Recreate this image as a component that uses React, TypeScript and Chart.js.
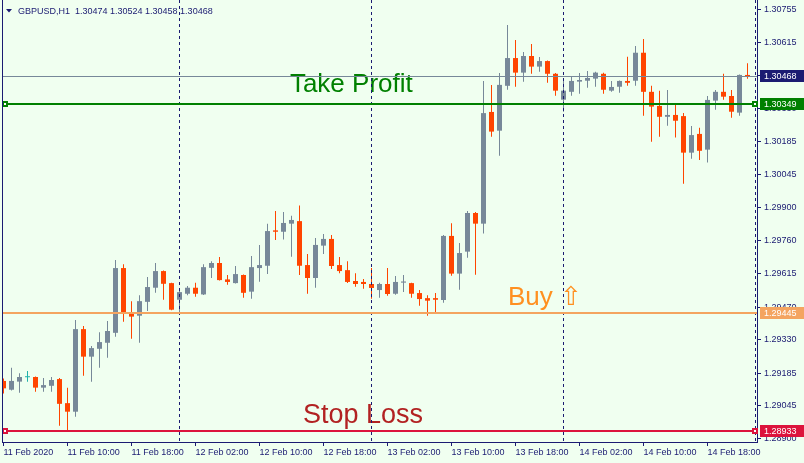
import React, { useEffect, useRef } from 'react';
import { Chart, registerables } from 'chart.js';

Chart.register(...registerables);

const symbol = 'GBPUSD';
const timeframe = 'H1';

const opens = [
  1.29151, 1.29113, 1.29148, 1.29167, 1.29168, 1.29122, 1.29130, 1.29159, 1.29055, 1.29018,
  1.29375, 1.29256, 1.29290, 1.29316, 1.29359, 1.29639, 1.29445, 1.29433, 1.29493, 1.29554,
  1.29626, 1.29574, 1.29502, 1.29528, 1.29554, 1.29525, 1.29640, 1.29661, 1.29590, 1.29574,
  1.29609, 1.29537, 1.29639, 1.29649, 1.29802, 1.29796, 1.29831, 1.29842, 1.29652, 1.29596,
  1.29736, 1.29765, 1.29652, 1.29630, 1.29583, 1.29579, 1.29570, 1.29544, 1.29570, 1.29528,
  1.29576, 1.29574, 1.29531, 1.29509, 1.29509, 1.29501, 1.29778, 1.29615, 1.29710, 1.29877,
  1.29831, 1.30314, 1.30233, 1.30427, 1.30547, 1.30484, 1.30556, 1.30510, 1.30534, 1.30479,
  1.30367, 1.30401, 1.30445, 1.30449, 1.30458, 1.30479, 1.30406, 1.30423, 1.30448, 1.30449,
  1.30570, 1.30401, 1.30340, 1.30293, 1.30301, 1.30296, 1.30138, 1.30219, 1.30151, 1.30363,
  1.30401, 1.30383, 1.30311, 1.30474,
];

const highs = [
  1.29162, 1.29208, 1.29184, 1.29194, 1.29170, 1.29164, 1.29168, 1.29164, 1.29122, 1.29414,
  1.29388, 1.29302, 1.29362, 1.29410, 1.29674, 1.29656, 1.29496, 1.29522, 1.29600, 1.29661,
  1.29628, 1.29576, 1.29548, 1.29561, 1.29576, 1.29656, 1.29669, 1.29687, 1.29609, 1.29648,
  1.29611, 1.29691, 1.29739, 1.29831, 1.29886, 1.29881, 1.29865, 1.29909, 1.29700, 1.29769,
  1.29786, 1.29782, 1.29687, 1.29669, 1.29617, 1.29592, 1.29639, 1.29576, 1.29639, 1.29605,
  1.29609, 1.29576, 1.29544, 1.29522, 1.29531, 1.29782, 1.29833, 1.29747, 1.29886, 1.29881,
  1.30448, 1.30431, 1.30482, 1.30690, 1.30625, 1.30573, 1.30608, 1.30552, 1.30536, 1.30482,
  1.30456, 1.30469, 1.30482, 1.30491, 1.30488, 1.30484, 1.30448, 1.30450, 1.30553, 1.30599,
  1.30629, 1.30427, 1.30406, 1.30409, 1.30350, 1.30309, 1.30253, 1.30246, 1.30383, 1.30409,
  1.30479, 1.30409, 1.30476, 1.30524,
];

const lows = [
  1.29097, 1.29110, 1.29100, 1.29148, 1.29104, 1.29104, 1.29104, 1.28957, 1.28931, 1.28996,
  1.29173, 1.29148, 1.29208, 1.29251, 1.29342, 1.29407, 1.29333, 1.29316, 1.29453, 1.29532,
  1.29502, 1.29457, 1.29446, 1.29522, 1.29515, 1.29523, 1.29596, 1.29585, 1.29567, 1.29572,
  1.29511, 1.29506, 1.29580, 1.29613, 1.29760, 1.29762, 1.29688, 1.29609, 1.29528, 1.29554,
  1.29700, 1.29635, 1.29617, 1.29574, 1.29558, 1.29550, 1.29506, 1.29511, 1.29519, 1.29524,
  1.29535, 1.29511, 1.29476, 1.29433, 1.29446, 1.29489, 1.29606, 1.29545, 1.29684, 1.29610,
  1.29788, 1.30207, 1.30125, 1.30410, 1.30423, 1.30445, 1.30479, 1.30488, 1.30440, 1.30384,
  1.30315, 1.30384, 1.30393, 1.30419, 1.30423, 1.30393, 1.30401, 1.30397, 1.30427, 1.30427,
  1.30298, 1.30185, 1.30207, 1.30254, 1.30203, 1.30004, 1.30112, 1.30106, 1.30095, 1.30324,
  1.30367, 1.30289, 1.30298, 1.30458,
];

const closes = [
  1.29119, 1.29151, 1.29168, 1.29167, 1.29122, 1.29133, 1.29155, 1.29052, 1.29018, 1.29375,
  1.29256, 1.29293, 1.29319, 1.29367, 1.29639, 1.29443, 1.29429, 1.29496, 1.29557, 1.29626,
  1.29571, 1.29459, 1.29535, 1.29554, 1.29528, 1.29643, 1.29661, 1.29587, 1.29579, 1.29613,
  1.29532, 1.29643, 1.29652, 1.29799, 1.29796, 1.29834, 1.29847, 1.29649, 1.29596, 1.29739,
  1.29765, 1.29648, 1.29626, 1.29579, 1.29570, 1.29570, 1.29553, 1.29570, 1.29527, 1.29579,
  1.29581, 1.29528, 1.29505, 1.29498, 1.29502, 1.29778, 1.29615, 1.29704, 1.29877, 1.29831,
  1.30309, 1.30229, 1.30431, 1.30547, 1.30484, 1.30556, 1.30510, 1.30534, 1.30479, 1.30406,
  1.30406, 1.30448, 1.30452, 1.30461, 1.30484, 1.30410, 1.30422, 1.30448, 1.30440, 1.30570,
  1.30401, 1.30337, 1.30293, 1.30301, 1.30276, 1.30138, 1.30214, 1.30146, 1.30366, 1.30401,
  1.30380, 1.30315, 1.30474, 1.30468,
];

const yTickValues = [
  1.30755, 1.30615, 1.30470, 1.30330, 1.30185, 1.30045, 1.29900,
  1.29760, 1.29615, 1.29470, 1.29330, 1.29185, 1.29045, 1.28900,
];

const xTickIndex = [0, 8, 16, 24, 32, 40, 48, 56, 64, 72, 80, 88];
const xTickLabels = [
  '11 Feb 2020', '11 Feb 10:00', '11 Feb 18:00', '12 Feb 02:00', '12 Feb 10:00', '12 Feb 18:00',
  '13 Feb 02:00', '13 Feb 10:00', '13 Feb 18:00', '14 Feb 02:00', '14 Feb 10:00', '14 Feb 18:00',
];
const daySeparators = [22, 46, 70, 94];

const bidPrice = 1.30468;
const takeProfit = 1.30349;
const buyPrice = 1.29445;
const stopLoss = 1.28933;

const annotationTexts = ['Take Profit', 'Buy ⇧', 'Stop Loss'];
const annotationIndex = [35.8, 63.06, 37.44];
const annotationPrice = [1.30401, 1.2948, 1.2897];
const annotationColors = ['#008000', '#FF9020', '#B22222'];
const annotationSizes = [26, 26, 27];

const NAVY = '#1b1b72';
const BULL = '#778899';
const BEAR = '#FF4500';
const DOJI = '#20B2AA';
const BG = '#F0FFF0';
const FONT = "'Liberation Sans', Arial, 'DejaVu Sans', sans-serif";

export default function App() {
  const ref = useRef<HTMLCanvasElement>(null);

  useEffect(() => {
    const canvas = ref.current;
    if (!canvas) return;
    const idx = opens.map((_, i) => i);
    const colors = idx.map((i) =>
      closes[i] > opens[i] ? BULL : closes[i] < opens[i] ? BEAR : DOJI
    );

    const overlay = {
      id: 'mt4Overlay',
      beforeDraw(chart: any) {
        const ctx = chart.ctx;
        ctx.save();
        ctx.fillStyle = BG;
        ctx.fillRect(0, 0, chart.width, chart.height);
        ctx.restore();
      },
      afterDatasetsDraw(chart: any) {
        const { ctx, chartArea: a, scales } = chart;
        const xs = scales.x;
        const ys = scales.y;
        ctx.save();

        // text objects
        ctx.textAlign = 'left';
        ctx.textBaseline = 'alphabetic';
        annotationTexts.forEach((t, k) => {
          ctx.font = `${annotationSizes[k]}px ${FONT}`;
          ctx.fillStyle = annotationColors[k];
          ctx.fillText(t, xs.getPixelForValue(annotationIndex[k]), ys.getPixelForValue(annotationPrice[k]));
        });

        // period separators
        ctx.strokeStyle = NAVY;
        ctx.lineWidth = 1;
        ctx.setLineDash([3, 3]);
        daySeparators.forEach((s) => {
          const x = Math.floor(xs.getPixelForValue(s)) + 0.5;
          ctx.beginPath();
          ctx.moveTo(x, a.top);
          ctx.lineTo(x, a.bottom);
          ctx.stroke();
        });
        ctx.setLineDash([]);

        // horizontal lines
        const hline = (price: number, color: string, w: number) => {
          const raw = ys.getPixelForValue(price);
          const y = w % 2 ? Math.floor(raw) + 0.5 : Math.round(raw);
          ctx.strokeStyle = color;
          ctx.lineWidth = w;
          ctx.beginPath();
          ctx.moveTo(a.left, y);
          ctx.lineTo(a.right, y);
          ctx.stroke();
          return Math.round(raw);
        };
        hline(bidPrice, BULL, 1);
        const tpY = hline(takeProfit, '#008000', 2);
        hline(buyPrice, '#F4A460', 2);
        const slY = hline(stopLoss, '#DC143C', 2);

        const square = (x: number, y: number, color: string) => {
          ctx.fillStyle = color;
          ctx.fillRect(x - 3, y - 3, 6, 6);
          ctx.fillStyle = '#ffffff';
          ctx.fillRect(x - 1, y - 1, 2, 2);
        };
        square(a.left + 3, tpY, '#008000');
        square(a.right - 2, tpY, '#008000');
        square(a.left + 3, slY, '#DC143C');
        square(a.right - 2, slY, '#DC143C');

        // left frame
        ctx.strokeStyle = NAVY;
        ctx.lineWidth = 1;
        ctx.beginPath();
        ctx.moveTo(a.left + 0.5, a.top);
        ctx.lineTo(a.left + 0.5, a.bottom);
        ctx.stroke();

        // price labels on axis
        const box = (price: number, bg: string) => {
          const y = Math.round(ys.getPixelForValue(price));
          ctx.fillStyle = bg;
          ctx.fillRect(a.right + 3, y - 6, 44, 12);
          ctx.fillStyle = '#ffffff';
          ctx.font = `9px ${FONT}`;
          ctx.textBaseline = 'middle';
          ctx.textAlign = 'left';
          ctx.fillText(price.toFixed(5), a.right + 7, y + 0.5);
        };
        box(bidPrice, NAVY);
        box(takeProfit, '#008000');
        box(buyPrice, '#F4A460');
        box(stopLoss, '#DC143C');

        // title
        const last = opens.length - 1;
        ctx.fillStyle = NAVY;
        ctx.beginPath();
        ctx.moveTo(6, 9);
        ctx.lineTo(12, 9);
        ctx.lineTo(9, 12.5);
        ctx.closePath();
        ctx.fill();
        ctx.font = `9px ${FONT}`;
        ctx.textBaseline = 'alphabetic';
        const title = `${symbol},${timeframe}  ${opens[last].toFixed(5)} ${highs[last].toFixed(5)} ${lows[last].toFixed(5)} ${closes[last].toFixed(5)}`;
        ctx.fillText(title, 18, 14);

        ctx.restore();
      },
    };

    const chart = new Chart(canvas, {
      type: 'bar',
      data: {
        datasets: [
          {
            label: 'body',
            data: idx.map((i) => ({ x: i, y: [opens[i], closes[i]] })) as any,
            backgroundColor: colors,
            borderWidth: 0,
            barThickness: 5,
            minBarLength: 1,
            grouped: false,
            inflateAmount: 0,
            order: 0,
          } as any,
          {
            label: 'wick',
            data: idx.map((i) => ({ x: i, y: [lows[i], highs[i]] })) as any,
            backgroundColor: colors,
            borderWidth: 0,
            barThickness: 1,
            grouped: false,
            inflateAmount: 0,
            order: 1,
          } as any,
        ],
      },
      options: {
        responsive: false,
        animation: false,
        devicePixelRatio: 1,
        events: [],
        layout: { padding: { left: 2, top: 0, right: 0, bottom: 0 } },
        plugins: {
          legend: { display: false },
          tooltip: { enabled: false },
          title: { display: false },
        },
        scales: {
          x: {
            type: 'linear',
            position: 'bottom',
            min: -0.1875,
            max: 94.1875,
            offset: false,
            afterBuildTicks: (s: any) => {
              s.ticks = xTickIndex.map((v) => ({ value: v }));
            },
            afterFit: (s: any) => {
              s.height = 21;
              s.paddingLeft = 0;
              s.paddingRight = 0;
            },
            ticks: {
              autoSkip: false,
              maxRotation: 0,
              minRotation: 0,
              align: 'start',
              padding: 1,
              color: NAVY,
              font: { family: FONT, size: 9 },
              callback: (v: any) => {
                const k = xTickIndex.indexOf(Number(v));
                return k >= 0 ? xTickLabels[k] : '';
              },
            },
            grid: { drawOnChartArea: false, drawTicks: true, tickLength: 4, color: NAVY, offset: false },
            border: { display: true, color: NAVY, width: 1 },
          },
          y: {
            type: 'linear',
            position: 'right',
            min: 1.28887,
            max: 1.30798,
            beginAtZero: false,
            afterBuildTicks: (s: any) => {
              s.ticks = yTickValues.map((v) => ({ value: v }));
            },
            afterFit: (s: any) => {
              s.width = 47;
              s.paddingTop = 0;
              s.paddingBottom = 0;
            },
            ticks: {
              autoSkip: false,
              padding: 3,
              color: NAVY,
              font: { family: FONT, size: 9 },
              callback: (v: any) => Number(v).toFixed(5),
            },
            grid: { drawOnChartArea: false, drawTicks: true, tickLength: 4, color: NAVY },
            border: { display: true, color: NAVY, width: 1 },
          },
        },
      } as any,
      plugins: [overlay],
    });

    return () => chart.destroy();
  }, []);

  return (
    <div style={{ position: 'fixed', left: 0, top: 0, width: 804, height: 463, background: BG }}>
      <canvas ref={ref} width={804} height={463} style={{ display: 'block', width: 804, height: 463 }} />
    </div>
  );
}
